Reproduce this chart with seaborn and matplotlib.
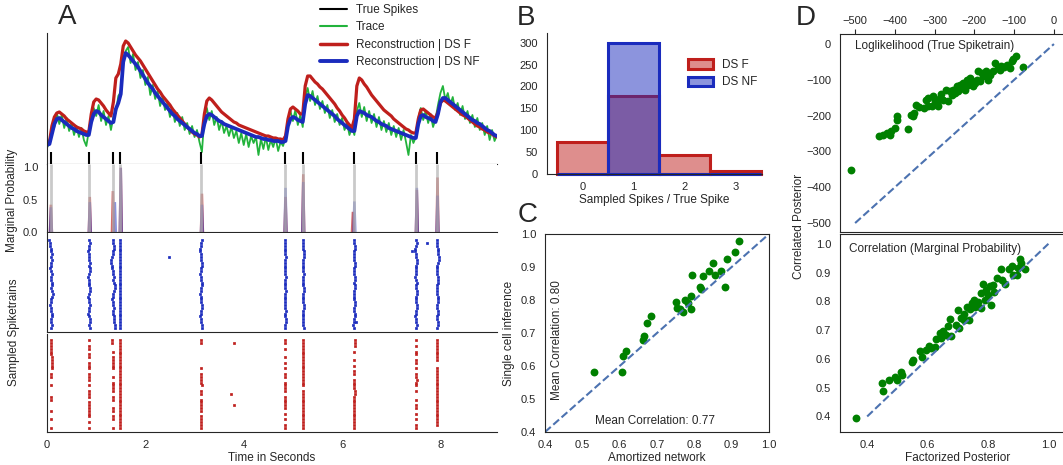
import numpy as np
import pandas as pd
import matplotlib
matplotlib.use('Agg')
import matplotlib.pyplot as plt
from matplotlib.lines import Line2D
from matplotlib.patches import Patch
from matplotlib.colors import to_rgba
import seaborn as sns

# ============================================================
# DATA
# ============================================================
spike_times = [0.075, 0.86, 1.35, 1.49, 3.14, 4.84, 5.20, 6.24, 7.51, 7.93]

# fluorescence trace and reconstructions, sampled every 0.05 s
trace_dt = 0.05
trace = [
    0.16, 0.23, 0.34, 0.37, 0.51, 0.40, 0.49, 0.36, 0.46, 0.33,
    0.41, 0.29, 0.38, 0.27, 0.36, 0.24, 0.18, 0.33, 0.47, 0.56,
    0.48, 0.59, 0.43, 0.53, 0.39, 0.48, 0.34, 0.47, 0.51, 0.68,
    0.72, 1.04, 1.13, 1.17, 1.01, 1.10, 0.94, 1.02, 0.86, 0.94,
    0.79, 0.87, 0.69, 0.79, 0.65, 0.73, 0.58, 0.67, 0.54, 0.61,
    0.47, 0.56, 0.42, 0.51, 0.38, 0.47, 0.34, 0.41, 0.30, 0.38,
    0.27, 0.34, 0.22, 0.12, 0.46, 0.56, 0.44, 0.53, 0.39, 0.47,
    0.34, 0.43, 0.31, 0.38, 0.28, 0.37, 0.26, 0.33, 0.21, 0.31,
    0.19, 0.30, 0.17, 0.28, 0.21, 0.27, 0.09, 0.25, 0.15, 0.27,
    0.14, 0.24, 0.17, 0.26, 0.13, 0.22, 0.18, 0.27, 0.45, 0.53,
    0.43, 0.54, 0.39, 0.49, 0.37, 0.67, 0.76, 0.63, 0.73, 0.59,
    0.68, 0.55, 0.63, 0.51, 0.59, 0.46, 0.54, 0.42, 0.50, 0.39,
    0.46, 0.34, 0.41, 0.29, 0.37, 0.29, 0.53, 0.61, 0.47, 0.57,
    0.43, 0.53, 0.41, 0.50, 0.37, 0.47, 0.34, 0.43, 0.32, 0.41,
    0.29, 0.38, 0.27, 0.36, 0.24, 0.34, 0.22, 0.09, 0.29, 0.21,
    0.27, 0.46, 0.56, 0.44, 0.53, 0.41, 0.50, 0.37, 0.45, 0.59,
    0.71, 0.78, 0.64, 0.71, 0.59, 0.67, 0.54, 0.61, 0.49, 0.58,
    0.45, 0.53, 0.41, 0.49, 0.37, 0.46, 0.34, 0.41, 0.29, 0.38,
    0.24, 0.34, 0.23, 0.29,
]
recon_f = [
    0.19, 0.22, 0.38, 0.47, 0.51, 0.52, 0.50, 0.48, 0.45, 0.43,
    0.41, 0.39, 0.37, 0.36, 0.35, 0.33, 0.32, 0.32, 0.50, 0.62,
    0.65, 0.64, 0.61, 0.58, 0.54, 0.51, 0.48, 0.62, 0.86, 0.90,
    1.00, 1.18, 1.23, 1.21, 1.17, 1.13, 1.09, 1.06, 1.03, 0.99,
    0.95, 0.91, 0.87, 0.83, 0.79, 0.75, 0.72, 0.68, 0.65, 0.62,
    0.59, 0.55, 0.52, 0.49, 0.46, 0.43, 0.40, 0.37, 0.35, 0.32,
    0.30, 0.29, 0.27, 0.29, 0.50, 0.63, 0.66, 0.64, 0.61, 0.58,
    0.55, 0.52, 0.50, 0.48, 0.46, 0.44, 0.42, 0.41, 0.39, 0.38,
    0.37, 0.36, 0.35, 0.34, 0.33, 0.32, 0.31, 0.30, 0.29, 0.28,
    0.28, 0.27, 0.26, 0.26, 0.25, 0.25, 0.24, 0.28, 0.45, 0.55,
    0.57, 0.55, 0.53, 0.50, 0.50, 0.78, 0.88, 0.88, 0.85, 0.82,
    0.80, 0.77, 0.75, 0.72, 0.69, 0.66, 0.63, 0.60, 0.56, 0.53,
    0.49, 0.46, 0.42, 0.39, 0.36, 0.45, 0.78, 0.86, 0.84, 0.80,
    0.77, 0.73, 0.69, 0.66, 0.63, 0.60, 0.57, 0.54, 0.52, 0.50,
    0.48, 0.45, 0.43, 0.41, 0.39, 0.37, 0.35, 0.34, 0.32, 0.31,
    0.31, 0.45, 0.54, 0.55, 0.53, 0.51, 0.49, 0.47, 0.46, 0.52,
    0.61, 0.64, 0.63, 0.61, 0.59, 0.57, 0.55, 0.53, 0.51, 0.49,
    0.48, 0.46, 0.44, 0.42, 0.40, 0.38, 0.37, 0.35, 0.34, 0.32,
    0.31, 0.30, 0.28, 0.27,
]
recon_nf = [
    0.19, 0.20, 0.30, 0.40, 0.45, 0.46, 0.44, 0.42, 0.40, 0.38,
    0.36, 0.35, 0.33, 0.32, 0.31, 0.30, 0.29, 0.29, 0.42, 0.50,
    0.53, 0.52, 0.49, 0.47, 0.45, 0.43, 0.41, 0.42, 0.55, 0.61,
    0.70, 1.02, 1.11, 1.09, 1.06, 1.03, 1.00, 0.97, 0.93, 0.89,
    0.85, 0.81, 0.78, 0.75, 0.71, 0.68, 0.65, 0.62, 0.59, 0.56,
    0.53, 0.50, 0.48, 0.45, 0.43, 0.41, 0.39, 0.37, 0.35, 0.33,
    0.31, 0.30, 0.28, 0.28, 0.40, 0.48, 0.50, 0.49, 0.47, 0.45,
    0.43, 0.42, 0.40, 0.39, 0.38, 0.37, 0.36, 0.35, 0.34, 0.33,
    0.32, 0.31, 0.30, 0.29, 0.28, 0.27, 0.27, 0.26, 0.25, 0.25,
    0.24, 0.24, 0.23, 0.23, 0.23, 0.22, 0.22, 0.23, 0.38, 0.45,
    0.47, 0.46, 0.44, 0.43, 0.42, 0.60, 0.69, 0.68, 0.66, 0.64,
    0.62, 0.60, 0.58, 0.56, 0.54, 0.52, 0.50, 0.48, 0.45, 0.43,
    0.41, 0.39, 0.37, 0.35, 0.33, 0.33, 0.48, 0.53, 0.52, 0.51,
    0.49, 0.48, 0.47, 0.45, 0.43, 0.42, 0.40, 0.39, 0.38, 0.36,
    0.35, 0.34, 0.33, 0.32, 0.31, 0.30, 0.29, 0.28, 0.27, 0.26,
    0.26, 0.40, 0.48, 0.49, 0.47, 0.46, 0.45, 0.43, 0.42, 0.50,
    0.62, 0.66, 0.66, 0.64, 0.62, 0.60, 0.58, 0.56, 0.54, 0.52,
    0.50, 0.48, 0.46, 0.44, 0.43, 0.41, 0.40, 0.38, 0.36, 0.34,
    0.33, 0.31, 0.29, 0.28,
]

# marginal spike probability peaks
marg_f_t = [0.07, 0.86, 1.33, 1.49, 3.14, 4.84, 5.20, 6.21, 7.51, 7.93]
marg_f = [0.43, 0.55, 0.64, 1.00, 0.60, 0.55, 0.90, 0.32, 0.66, 0.85]
marg_nf_t = [0.07, 0.86, 1.37, 1.49, 3.14, 4.84, 5.20, 6.24, 7.51, 7.93]
marg_nf = [0.39, 0.47, 0.47, 1.00, 0.43, 0.69, 0.78, 0.48, 0.69, 0.57]

# sampled spike trains: one string per true spike, one char per sample
# digit = jitter in 0.02 s steps around the spike ('3' = on time), '.' = no spike
raster_step = 0.02
raster_nf = [
    "12233434" "33234334" "43454332" "33443343",
    "34332333" "43443233" "34432334" "33234434",
    "33443321" "12233434" "55433233" "43344455",
    "33333333" "33333333" "33333333" "33333333",
    "43322333" "44332334" "43323334" "43323344",
    "33333343" "33333433" "33433333" "34334433",
    "33334443" "33334333" "34433334" "43333334",
    "33443333" "44333443" "44333344" "33443323",
    "34322334" "43333234" "33443334" "43323343",
    "33344455" "43333444" "33334443" "34433443",
]
raster_f = [
    "33333344" "444.33.." "3...33.." ".3..3..3",
    "3.33.33." "333.333." "3.333.33" "3333.3.3",
    "22..3.33" "333..3.3" "333.33.." "33.33..3",
    "33333333" "33333333" "33333333" "33333333",
    "33......" "..3.3333" "4.33.333" "33.33333",
    "33.3..3." "3.3.33.3" "333.3333" "3.3.3.33",
    "33333333" "33333333" "3.333333" "33333333",
    "444.3..3" ".3.33.33" "33443333" "33333333",
    "3.3.33.3" "3.3.3343" "3.3..3.3" "3.3.3.33",
    "33333333" "..333333" "33333333" "3333333.",
]
stray_nf_t = [2.48, 7.72, 7.43, 6.28]
stray_nf_row = [6, 1, 4, 29]
stray_f_t = [3.81, 3.75, 3.81]
stray_f_row = [1, 19, 23]

# B: sampled spikes per true spike
hist_bins = [0, 1, 2, 3]
hist_f = [72, 179, 44, 6]
hist_nf = [0, 300, 0, 0]

# C: correlation per cell
amort_x = [0.531, 0.605, 0.610, 0.616, 0.663, 0.664, 0.672, 0.683, 0.752, 0.753,
           0.761, 0.770, 0.774, 0.783, 0.790, 0.790, 0.795, 0.815, 0.819, 0.823,
           0.839, 0.850, 0.855, 0.871, 0.881, 0.888, 0.908, 0.920]
single_y = [0.582, 0.582, 0.631, 0.645, 0.678, 0.690, 0.731, 0.752, 0.795, 0.777,
            0.774, 0.764, 0.800, 0.790, 0.813, 0.772, 0.876, 0.838, 0.832, 0.873,
            0.889, 0.911, 0.876, 0.888, 0.840, 0.924, 0.944, 0.979]

# D top: loglikelihood of true spiketrain
ll_fact = [-511, -439, -429, -419, -412, -410, -400, -395, -395, -368,
           -359, -355, -353, -348, -328, -322, -316, -307, -303, -299,
           -291, -286, -278, -272, -266, -257, -249, -245, -240, -232,
           -228, -224, -215, -207, -203, -194, -190, -186, -178, -171,
           -165, -161, -153, -148, -140, -132, -119, -111, -106, -102,
           -96, -79, -253, -219, -199, -182, -169, -136, -295, -316,
           -261, -210, -175, -125, -235, -285, -340]
ll_corr = [-351, -256, -253, -249, -253, -242, -235, -211, -200, -237,
           -197, -200, -193, -169, -179, -155, -174, -174, -146, -160,
           -174, -151, -155, -128, -160, -142, -137, -118, -132, -123,
           -109, -128, -114, -104, -118, -100, -76, -104, -90, -76,
           -100, -86, -76, -53, -67, -62, -58, -67, -48, -42,
           -34, -65, -128, -100, -109, -81, -90, -72, -165, -151,
           -132, -95, -85, -65, -115, -140, -175]

# D bottom: correlation of marginal probability
corr_fact = [0.362, 0.449, 0.453, 0.472, 0.491, 0.498, 0.512, 0.514, 0.548, 0.551,
             0.575, 0.580, 0.594, 0.604, 0.611, 0.625, 0.628, 0.641, 0.646, 0.651,
             0.662, 0.669, 0.673, 0.678, 0.694, 0.699, 0.704, 0.710, 0.720, 0.731,
             0.736, 0.741, 0.747, 0.755, 0.757, 0.768, 0.776, 0.784, 0.789, 0.794,
             0.799, 0.808, 0.815, 0.821, 0.831, 0.842, 0.847, 0.857, 0.868, 0.878,
             0.884, 0.895, 0.900, 0.905, 0.910, 0.924, 0.810, 0.778, 0.720]
corr_corr = [0.393, 0.518, 0.489, 0.527, 0.537, 0.527, 0.556, 0.545, 0.588, 0.597,
             0.626, 0.608, 0.632, 0.646, 0.637, 0.643, 0.669, 0.690, 0.672, 0.696,
             0.684, 0.713, 0.738, 0.678, 0.719, 0.771, 0.707, 0.742, 0.757, 0.782,
             0.736, 0.773, 0.794, 0.803, 0.782, 0.796, 0.776, 0.861, 0.805, 0.840,
             0.823, 0.854, 0.858, 0.834, 0.881, 0.912, 0.875, 0.860, 0.912, 0.924,
             0.892, 0.892, 0.915, 0.947, 0.933, 0.913, 0.788, 0.828, 0.736]

# ============================================================
# STYLE
# ============================================================
RED = '#bf1f1c'
BLUE = '#1a2bbd'
GREEN = '#22b33c'
DOT = '#008000'
DASH = '#4c72b0'
TXT = '.15'

sns.set_style('white')
plt.rcParams['font.family'] = ['Liberation Sans', 'DejaVu Sans']
plt.rcParams['font.size'] = 8.5
plt.rcParams['xtick.labelsize'] = 8
plt.rcParams['ytick.labelsize'] = 8
plt.rcParams['xtick.major.pad'] = 2.5
plt.rcParams['ytick.major.pad'] = 3
plt.rcParams['axes.labelpad'] = 1.5

W, H = 1063, 465
fig = plt.figure(figsize=(W / 100, H / 100), dpi=100)


def box(l, t, r, b):
    return [l / W, 1 - b / H, (r - l) / W, (b - t) / H]


def raster_frame(patterns, times, extra_t, extra_row):
    rows = []
    for st, pat in zip(times, patterns):
        for r, ch in enumerate(pat):
            if ch != '.':
                rows.append((st + (int(ch) - 3) * raster_step, r))
    rows += list(zip(extra_t, extra_row))
    return pd.DataFrame(rows, columns=['t', 'row'])


# ============================================================
# PANEL A
# ============================================================
t = np.arange(len(trace)) * trace_dt
xmax = 9.15

ax_tr = fig.add_axes(box(47, 33, 497, 164))
sns.lineplot(x=t, y=trace, ax=ax_tr, color=GREEN, lw=1.3, estimator=None)
sns.lineplot(x=t, y=recon_f, ax=ax_tr, color=RED, lw=2.3, estimator=None)
sns.lineplot(x=t, y=recon_nf, ax=ax_tr, color=BLUE, lw=2.7, estimator=None)
ax_tr.vlines(spike_times, 0, 0.12, color='k', lw=1.5)
ax_tr.set_xlim(0, xmax)
ax_tr.set_ylim(0, 1.31)
ax_tr.set_xticks([])
ax_tr.set_yticks([])
sns.despine(ax=ax_tr)

ax_m = fig.add_axes(box(47, 164, 497, 232))
ax_m.vlines(spike_times, 0, 1.05, color='0.7', alpha=0.7, lw=2)
base, top = 0.045, 0.025
for tt, h in zip(marg_f_t, marg_f):
    ax_m.fill_between([tt - base, tt - top, tt + top, tt + base], [0, h, h, 0],
                      color=RED, alpha=0.65, lw=0)
for tt, h in zip(marg_nf_t, marg_nf):
    ax_m.fill_between([tt - base, tt - top, tt + top, tt + base], [0, h, h, 0],
                      color=BLUE, alpha=0.5, lw=0)
ax_m.set_xlim(0, xmax)
ax_m.set_ylim(0, 1.05)
ax_m.set_yticks([0, 0.5, 1.0])
ax_m.set_xticks([])
sns.despine(ax=ax_m)

df_nf = raster_frame(raster_nf, spike_times, stray_nf_t, stray_nf_row)
ax_nf = fig.add_axes(box(47, 233, 497, 332))
sns.scatterplot(data=df_nf, x='t', y='row', ax=ax_nf, color=BLUE,
                marker='s', s=4, edgecolor=BLUE, linewidth=0.5)
ax_nf.set_xlim(0, xmax)
ax_nf.set_ylim(32.5, -2.5)
ax_nf.set_xticks([])
ax_nf.set_yticks([])
ax_nf.set_xlabel('')
ax_nf.set_ylabel('')
sns.despine(ax=ax_nf)

df_f = raster_frame(raster_f, spike_times, stray_f_t, stray_f_row)
ax_f = fig.add_axes(box(47, 334, 497, 432))
sns.scatterplot(data=df_f, x='t', y='row', ax=ax_f, color=RED,
                marker='s', s=4, edgecolor=RED, linewidth=0.5)
ax_f.set_xlim(0, xmax)
ax_f.set_ylim(32.5, -2.2)
ax_f.set_xticks([0, 2, 4, 6, 8])
ax_f.set_yticks([])
ax_f.set_xlabel('Time in Seconds', color=TXT)
ax_f.set_ylabel('')
sns.despine(ax=ax_f)

fig.text(12 / W, 1 - 200 / H, 'Marginal Probability', rotation=90,
         ha='center', va='center', color=TXT)
fig.text(14 / W, 1 - 332 / H, 'Sampled Spiketrains', rotation=90,
         ha='center', va='center', color=TXT)

leg_handles = [Line2D([], [], color='k', lw=1.5),
               Line2D([], [], color=GREEN, lw=1.5),
               Line2D([], [], color=RED, lw=2.5),
               Line2D([], [], color=BLUE, lw=2.8)]
leg_labels = ['True Spikes', 'Trace', 'Reconstruction | DS F', 'Reconstruction | DS NF']
fig.legend(leg_handles, leg_labels, loc='upper left',
           bbox_to_anchor=(320 / W, 1 - 4 / H), frameon=False,
           borderpad=0, borderaxespad=0, handlelength=2.3,
           handletextpad=0.75, labelspacing=0.46)

# ============================================================
# PANEL B
# ============================================================
ax_b = fig.add_axes(box(547, 33, 762, 174))
sns.barplot(x=hist_bins, y=hist_f, ax=ax_b, color=RED, saturation=1,
            width=1.0, edgecolor=RED, linewidth=2.2, errorbar=None)
n_f = len(ax_b.patches)
sns.barplot(x=hist_bins, y=hist_nf, ax=ax_b, color=BLUE, saturation=1,
            width=1.0, edgecolor=BLUE, linewidth=2.2, errorbar=None)
for i, p in enumerate(ax_b.patches):
    p.set_facecolor(to_rgba(RED if i < n_f else BLUE, 0.5))
    p.set_clip_on(False)
ax_b.set_xlim(-0.7, 3.52)
ax_b.set_ylim(0, 322)
ax_b.set_yticks(range(0, 301, 50))
ax_b.set_xlabel('Sampled Spikes / True Spike', color=TXT)
ax_b.set_ylabel('')
sns.despine(ax=ax_b)
ax_b.legend(handles=[Patch(facecolor=to_rgba(RED, 0.5), edgecolor=RED, lw=2.2),
                     Patch(facecolor=to_rgba(BLUE, 0.5), edgecolor=BLUE, lw=2.2)],
            labels=['DS F', 'DS NF'], loc='upper left',
            bbox_to_anchor=(688 / W, 1 - 59 / H), bbox_transform=fig.transFigure,
            frameon=False, borderpad=0, borderaxespad=0,
            handlelength=2.1, handleheight=0.85, labelspacing=0.45)

# ============================================================
# PANEL C
# ============================================================
ax_c = fig.add_axes(box(545, 234, 769, 432))
ax_c.plot([0.4, 1.0], [0.4, 1.0], ls='--', color=DASH, lw=1.5)
sns.scatterplot(x=amort_x, y=single_y, ax=ax_c, color=DOT, s=32, linewidth=0)
ax_c.set_xlim(0.4, 1.0)
ax_c.set_ylim(0.4, 1.0)
ax_c.set_xticks(np.arange(0.4, 1.01, 0.1))
ax_c.set_yticks(np.arange(0.4, 1.01, 0.1))
ax_c.set_xlabel('Amortized network', color=TXT)
ax_c.set_ylabel('Single cell inference', color=TXT, labelpad=4)
ax_c.text(0.432, 0.68, 'Mean Correlation: 0.80', rotation=90,
          ha='center', va='center', color=TXT)
ax_c.text(0.695, 0.433, 'Mean Correlation: 0.77', ha='center', va='center', color=TXT)

# ============================================================
# PANEL D
# ============================================================
ax_d1 = fig.add_axes(box(840, 34, 1075, 232))
ax_d1.plot([-500, 0], [-500, 0], ls='--', color=DASH, lw=1.5)
sns.scatterplot(x=ll_fact, y=ll_corr, ax=ax_d1, color=DOT, s=32, linewidth=0)
ax_d1.set_xlim(-538, 53)
ax_d1.set_ylim(-525, 28)
ax_d1.xaxis.tick_top()
ax_d1.set_xticks(range(-500, 1, 100))
ax_d1.set_yticks(range(-500, 1, 100))
ax_d1.text(0.064, 0.937, 'Loglikelihood (True Spiketrain)', transform=ax_d1.transAxes,
           ha='left', va='center', color=TXT)

ax_d2 = fig.add_axes(box(840, 234, 1075, 432))
ax_d2.plot([0.4, 1.0], [0.4, 1.0], ls='--', color=DASH, lw=1.5)
sns.scatterplot(x=corr_fact, y=corr_corr, ax=ax_d2, color=DOT, s=32, linewidth=0)
ax_d2.set_xlim(0.31, 1.088)
ax_d2.set_ylim(0.346, 1.034)
ax_d2.set_xticks([0.4, 0.6, 0.8, 1.0])
ax_d2.set_yticks(np.arange(0.4, 1.01, 0.1))
ax_d2.set_xlabel('Factorized Posterior', color=TXT)
ax_d2.text(0.038, 0.926, 'Correlation (Marginal Probability)', transform=ax_d2.transAxes,
           ha='left', va='center', color=TXT)

fig.text(799 / W, 1 - 226 / H, 'Correlated Posterior', rotation=90,
         ha='center', va='center', color=TXT)

# panel letters
for letter, x, y in [('A', 67, 17), ('B', 526, 18), ('C', 528, 215), ('D', 806, 18)]:
    fig.text(x / W, 1 - y / H, letter, fontsize=20, ha='center', va='center', color=TXT)

fig.savefig('out.png', dpi=100)
